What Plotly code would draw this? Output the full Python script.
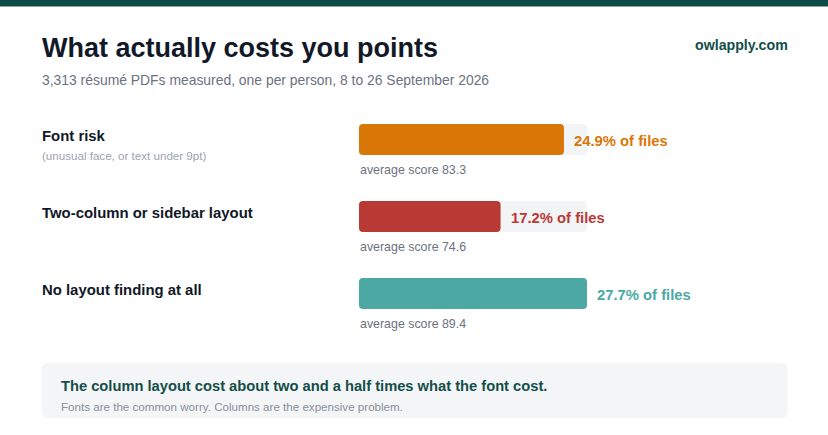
import plotly.graph_objects as go

# ---- data ----
categories = ["Font risk", "Two-column or sidebar layout", "No layout finding at all"]
sublabels = ["(unusual face, or text under 9pt)", "", ""]
share_pct = [24.9, 17.2, 27.7]
avg_score = [83.3, 74.6, 89.4]
bar_colors = ["#d97706", "#b93a34", "#4ba8a3"]

title = "What actually costs you points"
subtitle = "3,313 résumé PDFs measured, one per person, 8 to 26 September 2026"
brand = "owlapply.com"
callout_head = "The column layout cost about two and a half times what the font cost."
callout_sub = "Fonts are the common worry. Columns are the expensive problem."

# ---- layout helpers ----
W, H = 828, 435
FONT = "Liberation Sans, Arial, Helvetica, sans-serif"
ROW_PX, BAR_PX = 77, 31


def px_x(p):
    return p / W


def px_y(p):
    return 1 - p / H


track_max = max(share_pct)
track_vals = [track_max] * len(categories)

fig = go.Figure()


def add_rounded_bar(values, color, hover):
    # each bar is drawn as two overlapping pieces growing outward (one to 0,
    # one to the value) so that both outer ends receive the rounded corner
    left_base = [v * 0.65 for v in values]
    right_base = [v * 0.35 for v in values]
    pieces = [
        (left_base, [-b for b in left_base]),
        (right_base, [v - b for v, b in zip(values, right_base)]),
    ]
    for base, length in pieces:
        fig.add_trace(go.Bar(
            y=categories, x=length, base=base, orientation="h",
            marker=dict(color=color, line=dict(width=0)), width=BAR_PX / ROW_PX,
            customdata=list(zip(values, avg_score)),
            hovertemplate=hover, hoverinfo=None if hover else "skip",
            showlegend=False,
        ))


add_rounded_bar(track_vals, "#f3f4f6", None)
add_rounded_bar(share_pct, bar_colors,
                "%{y}<br>%{customdata[0]}% of files<br>average score %{customdata[1]}<extra></extra>")

ann = []
# header
ann.append(dict(text=title, x=px_x(40), y=px_y(48), xref="paper", yref="paper",
                xanchor="left", yanchor="middle", showarrow=False,
                font=dict(family=FONT, size=27, color="#111827", weight="bold")))
ann.append(dict(text=subtitle, x=px_x(40), y=px_y(79.5), xref="paper", yref="paper",
                xanchor="left", yanchor="middle", showarrow=False,
                font=dict(family=FONT, size=13.9, color="#6b7280")))
ann.append(dict(text=brand, x=px_x(790), y=px_y(45.5), xref="paper", yref="paper",
                xanchor="right", yanchor="middle", showarrow=False,
                font=dict(family=FONT, size=14.2, color="#134e4a", weight="bold")))

for cat, sub, val, score, col in zip(categories, sublabels, share_pct, avg_score, bar_colors):
    ann.append(dict(text=cat, x=px_x(40), y=cat, xref="paper", yref="y", yshift=4,
                    xanchor="left", yanchor="middle", showarrow=False,
                    font=dict(family=FONT, size=14.9, color="#111827", weight="bold")))
    if sub:
        ann.append(dict(text=sub, x=px_x(40), y=cat, xref="paper", yref="y", yshift=-15.5,
                        xanchor="left", yanchor="middle", showarrow=False,
                        font=dict(family=FONT, size=11.6, color="#9ca3af")))
    ann.append(dict(text=f"{val}% of files", x=val, y=cat, xref="x", yref="y", xshift=8, yshift=-1,
                    xanchor="left", yanchor="middle", showarrow=False,
                    font=dict(family=FONT, size=14.8, color=col, weight="bold")))
    ann.append(dict(text=f"average score {score}", x=0, y=cat, xref="x", yref="y", xshift=-1, yshift=-30,
                    xanchor="left", yanchor="middle", showarrow=False,
                    font=dict(family=FONT, size=12.4, color="#6b7280")))

# callout
ann.append(dict(text=callout_head, x=px_x(59), y=px_y(385.5), xref="paper", yref="paper",
                xanchor="left", yanchor="middle", showarrow=False,
                font=dict(family=FONT, size=14.7, color="#134e4a", weight="bold")))
ann.append(dict(text=callout_sub, x=px_x(59), y=px_y(406.5), xref="paper", yref="paper",
                xanchor="left", yanchor="middle", showarrow=False,
                font=dict(family=FONT, size=11.6, color="#8a909a")))


def rounded_rect(x0, y0, x1, y1, r):
    # pixel coords (top-left origin) -> paper path with quadratic corners
    rx, ry = r / W, r / H
    X0, X1 = px_x(x0), px_x(x1)
    Yt, Yb = px_y(y0), px_y(y1)
    return (f"M {X0+rx},{Yt} L {X1-rx},{Yt} Q {X1},{Yt} {X1},{Yt-ry} "
            f"L {X1},{Yb+ry} Q {X1},{Yb} {X1-rx},{Yb} L {X0+rx},{Yb} "
            f"Q {X0},{Yb} {X0},{Yb+ry} L {X0},{Yt-ry} Q {X0},{Yt} {X0+rx},{Yt} Z")


shapes = [
    dict(type="rect", xref="paper", yref="paper", x0=0, x1=1, y0=px_y(6.5), y1=1,
         fillcolor="#0f4c47", line=dict(width=0), layer="below"),
    dict(type="path", xref="paper", yref="paper", path=rounded_rect(41.5, 363.3, 787.5, 417.7, 6),
         fillcolor="#f3f5f6", line=dict(width=0), layer="below"),
]

y_top = 101
fig.update_layout(
    width=W, height=H,
    margin=dict(l=0, r=0, t=0, b=0),
    paper_bgcolor="#ffffff", plot_bgcolor="rgba(0,0,0,0)",
    barmode="overlay", barcornerradius=4,
    xaxis=dict(domain=[px_x(359), px_x(587)], range=[0, track_max], visible=False, fixedrange=True),
    yaxis=dict(domain=[px_y(y_top + ROW_PX * len(categories)), px_y(y_top)],
               range=[len(categories) - 0.5, -0.5], visible=False,
               type="category", categoryorder="array", categoryarray=categories, fixedrange=True),
    annotations=ann, shapes=shapes,
    font=dict(family=FONT),
)

fig.write_html(
    "out.html",
    config={"displayModeBar": False},
    post_script="document.body.style.margin='0';document.body.style.overflow='hidden';",
)
